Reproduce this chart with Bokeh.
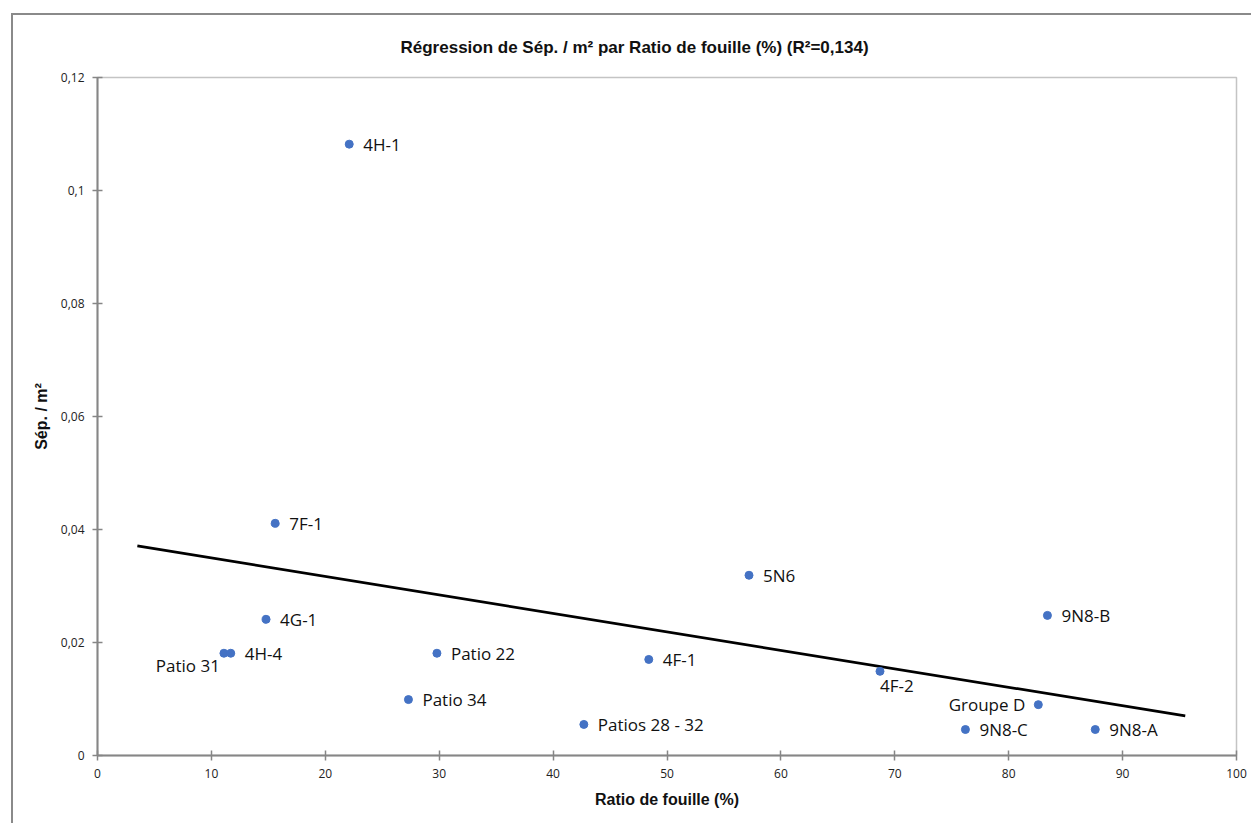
from bokeh.plotting import figure
from bokeh.models import Range1d, ColumnDataSource, LabelSet, FixedTicker
from bokeh.core.properties import value
from bokeh.embed import file_html
from bokeh.resources import INLINE

# ---- data ----
names = ["4H-1", "7F-1", "5N6", "9N8-B", "4G-1", "Patio 31", "4H-4", "Patio 22",
         "4F-1", "4F-2", "Patio 34", "Patios 28 - 32", "Groupe D", "9N8-C", "9N8-A"]
ratio = [22.1, 15.6, 57.2, 83.4, 14.8, 11.1, 11.7, 29.8,
         48.4, 68.7, 27.3, 42.7, 82.6, 76.2, 87.6]
sep_m2 = [0.1082, 0.0411, 0.0319, 0.0248, 0.0241, 0.0181, 0.0181, 0.0181,
          0.0170, 0.0149, 0.0099, 0.0055, 0.0090, 0.0046, 0.0046]
trend_x = [3.5, 95.5]
trend_y = [0.0371, 0.0070]
x_ticks = [0, 10, 20, 30, 40, 50, 60, 70, 80, 90, 100]
y_ticks = [0, 0.02, 0.04, 0.06, 0.08, 0.1, 0.12]
y_tick_labels = ["0", "0,02", "0,04", "0,06", "0,08", "0,1", "0,12"]
title_text = "Régression de Sép. / m² par Ratio de fouille (%) (R²=0,134)"

# label placement style (right of point by default)
place = {"Patio 31": "below_left", "4F-2": "below", "Groupe D": "left"}

W, H = 1240, 810
p = figure(width=W, height=H, output_backend="svg", toolbar_location=None,
           x_range=Range1d(0, 100), y_range=Range1d(0, 0.12),
           min_border_left=84, min_border_right=17, min_border_bottom=70,
           min_border_top=62, title=title_text)
p.styles = {"margin-left": "11px", "margin-top": "13px",
            "border-left": "2px solid #8a8a8a", "border-top": "2px solid #8a8a8a"}

p.title.align = "left"
p.title.offset = 303
p.title.text_font = "Liberation Sans"
p.title.text_font_size = "17px"
p.title.text_font_style = "bold"
p.title.text_color = "#111111"
p.title.standoff = 41

p.grid.visible = False
p.outline_line_color = "#c4c4c4"
p.outline_line_width = 1.5
p.background_fill_color = "white"
p.border_fill_color = "white"

for ax in (p.xaxis[0], p.yaxis[0]):
    ax.axis_line_color = "#868686"
    ax.axis_line_width = 2
    ax.major_tick_line_color = "#868686"
    ax.major_tick_line_width = 1.5
    ax.major_tick_in = 5
    ax.major_tick_out = 5
    ax.minor_tick_line_color = None
    ax.major_label_text_font = "Open Sans"
    ax.major_label_text_font_size = "12px"
    ax.major_label_text_color = "#222222"
    ax.axis_label_text_font = "Liberation Sans"
    ax.axis_label_text_font_size = "16px"
    ax.axis_label_text_font_style = "bold"
    ax.axis_label_text_color = "#111111"

p.xaxis.ticker = FixedTicker(ticks=x_ticks)
p.yaxis.ticker = FixedTicker(ticks=y_ticks)
p.yaxis.major_label_overrides = {t: l for t, l in zip(y_ticks, y_tick_labels)}
p.xaxis.axis_label = "Ratio de fouille (%)"
p.yaxis.axis_label = "Sép. / m²"
p.xaxis.major_label_standoff = 8
p.yaxis.major_label_standoff = 8
p.xaxis.axis_label_standoff = 10
p.yaxis.axis_label_standoff = 8

p.line(trend_x, trend_y, line_color="black", line_width=2.7)
src = ColumnDataSource(dict(x=ratio, y=sep_m2, name=names))
p.scatter("x", "y", source=src, size=8, fill_color="#4472C4", line_color="#4472C4")

xo, yo, ta, tb = [], [], [], []
for n in names:
    s = place.get(n, "right")
    if s == "right":
        xo.append(14); yo.append(0); ta.append("left"); tb.append("middle")
    elif s == "left":
        xo.append(-13); yo.append(0); ta.append("right"); tb.append("middle")
    elif s == "below":
        xo.append(0); yo.append(-14); ta.append("left"); tb.append("middle")
    else:
        xo.append(-4); yo.append(-12); ta.append("right"); tb.append("middle")
src.data.update(xo=xo, yo=yo, ta=ta, tb=tb)
labels = LabelSet(x="x", y="y", text="name", source=src, x_offset="xo", y_offset="yo",
                  text_align="ta", text_baseline="tb", text_font=value("Open Sans"),
                  text_font_size="17px", text_color="#111111")
p.add_layout(labels)

open("out.html", "w").write(file_html(p, INLINE))
